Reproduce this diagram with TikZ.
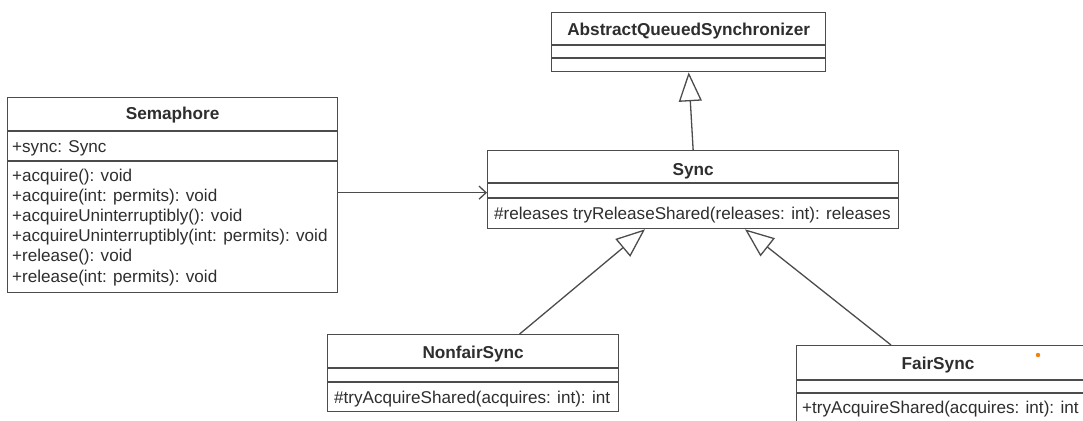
\documentclass[tikz,border=0pt]{standalone}
\usepackage{fontspec}
\setmainfont{Liberation Sans}
\usetikzlibrary{arrows.meta,calc,positioning}
\tikzset{
  umlbox/.style={
    draw = black!70,
    line width = 1.3pt,
    anchor = north west,
    inner sep = 0pt
  },
  umlline/.style={
    draw = black!70,
    line width = 1.3pt
  },
  umltitle/.style={
    anchor = base,
    inner sep = 0pt,
    text = black!82,
    font = \fontsize{17.2}{20}\selectfont\bfseries
  },
  umlmember/.style={
    anchor = base west,
    inner sep = 0pt,
    text = black!82,
    font = \fontsize{17.1}{20}\selectfont
  },
  assoc/.style={
    umlline,
    -{Straight Barb[length=7pt,width=13pt]}
  },
  inherit/.style={
    umlline,
    -{Triangle[open,length=29pt,width=23pt,fill=white]}
  }
}

\begin{document}
\begin{tikzpicture}[x=1pt,y=-1pt]
    \useasboundingbox[fill=white] (0,0) rectangle (1083,420);

    % AbstractQueuedSynchronizer
    \node[umlbox, minimum width=274pt, minimum height=59pt] (aqs) at (551,12) {};
    \draw[umlline] ($(aqs.north west)+(0,33)$) -- ($(aqs.north east)+(0,33)$);
    \draw[umlline] ($(aqs.north west)+(0,46)$) -- ($(aqs.north east)+(0,46)$);
    \node[umltitle] (aqs-name) at ($(aqs.north)+(0,24)$) {AbstractQueuedSynchronizer};

    % Semaphore
    \node[umlbox, minimum width=330pt, minimum height=195pt] (sem) at (7,97) {};
    \draw[umlline] ($(sem.north west)+(0,34)$) -- ($(sem.north east)+(0,34)$);
    \draw[umlline] ($(sem.north west)+(0,64)$) -- ($(sem.north east)+(0,64)$);
    \node[umltitle] (sem-name) at ($(sem.north)+(0,22)$) {Semaphore};
    \node[umlmember] (sem-field) at ($(sem.north west)+(5,55)$) {+sync: Sync};
    \foreach \txt [count=\i] in {{+acquire(): void},
                                 {+acquire(int: permits): void},
                                 {+acquireUninterruptibly(): void},
                                 {+acquireUninterruptibly(int: permits): void},
                                 {+release(): void},
                                 {+release(int: permits): void}}
        \node[umlmember] (sem-m\i) at ($(sem.north west)+(5,63.8+20.2*\i)$) {\txt};

    % Sync
    \node[umlbox, minimum width=411pt, minimum height=78pt] (sync) at (487,150) {};
    \draw[umlline] ($(sync.north west)+(0,33)$) -- ($(sync.north east)+(0,33)$);
    \draw[umlline] ($(sync.north west)+(0,48)$) -- ($(sync.north east)+(0,48)$);
    \node[umltitle] (sync-name) at ($(sync.north)+(0,25)$) {Sync};
    \node[umlmember] (sync-m1) at ($(sync.north west)+(7,69)$) {\#releases tryReleaseShared(releases: int): releases};

    % NonfairSync
    \node[umlbox, minimum width=291pt, minimum height=77pt] (nonfair) at (327,334) {};
    \draw[umlline] ($(nonfair.north west)+(0,34)$) -- ($(nonfair.north east)+(0,34)$);
    \draw[umlline] ($(nonfair.north west)+(0,48)$) -- ($(nonfair.north east)+(0,48)$);
    \node[umltitle] (nonfair-name) at ($(nonfair.north)+(0,24)$) {NonfairSync};
    \node[umlmember] (nonfair-m1) at ($(nonfair.north west)+(7,69)$) {\#tryAcquireShared(acquires: int): int};

    % FairSync (runs off the edge)
    \node[umlbox, minimum width=300pt, minimum height=80pt] (fair) at (796,345) {};
    \draw[umlline] ($(fair.north west)+(0,35)$) -- ($(fair.north east)+(0,35)$);
    \draw[umlline] ($(fair.north west)+(0,48)$) -- ($(fair.north east)+(0,48)$);
    \node[umltitle] (fair-name) at ($(fair.north west)+(142,24)$) {FairSync};
    \node[umlmember] (fair-m1) at ($(fair.north west)+(6,68)$) {+tryAcquireShared(acquires: int): int};
    \fill[orange!85!brown] (1038,355) circle (2.2pt);

    % relations
    \coordinate (sem-out) at ([yshift=2.5pt]sem.east);
    \draw[assoc] (sem-out) -- (sem-out -| sync.west);
    \draw[inherit] (sync.north) -- (aqs.south);
    \draw[inherit] ([xshift=46.5pt]nonfair.north) -- ([xshift=158pt]sync.south west);
    \draw[inherit] ([xshift=95pt]fair.north west) -- ([xshift=258pt]sync.south west);
\end{tikzpicture}
\end{document}
